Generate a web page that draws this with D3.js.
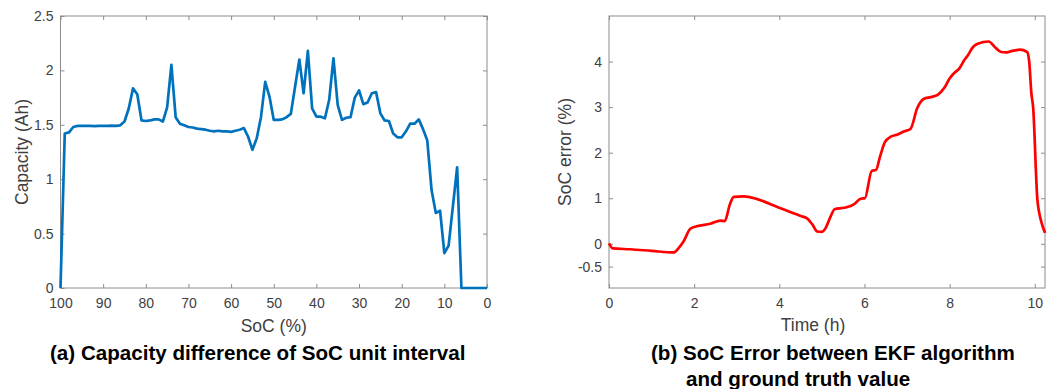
<!DOCTYPE html>
<html>
<head>
<meta charset="utf-8">
<script src="https://cdn.jsdelivr.net/npm/d3@7"></script>
<style>
  body { margin: 0; background: #fff; }
  text { font-family: "Liberation Sans", Arial, Helvetica, sans-serif; }
</style>
</head>
<body>
<svg id="fig" width="1060" height="389"></svg>
<script>
// ---- Panel (a): capacity per 1% SoC step ----
const socPercent = d3.range(100, -1, -1); // 100, 99, ..., 0
const capacityAh = [
  0, 1.42, 1.43, 1.48, 1.49, 1.49, 1.49, 1.49, 1.488, 1.49,
  1.49, 1.49, 1.492, 1.49, 1.495, 1.53, 1.65, 1.835, 1.78, 1.54,
  1.535, 1.54, 1.55, 1.55, 1.53, 1.66, 2.05, 1.57, 1.51, 1.495,
  1.48, 1.475, 1.465, 1.46, 1.455, 1.445, 1.44, 1.445, 1.44, 1.44,
  1.435, 1.445, 1.455, 1.47, 1.39, 1.27, 1.375, 1.57, 1.895, 1.76,
  1.545, 1.545, 1.55, 1.57, 1.60, 1.85, 2.10, 1.79, 2.18, 1.65,
  1.575, 1.575, 1.56, 1.73, 2.11, 1.68, 1.545, 1.565, 1.57, 1.75,
  1.815, 1.69, 1.705, 1.79, 1.80, 1.605, 1.54, 1.535, 1.42, 1.385,
  1.385, 1.44, 1.51, 1.51, 1.55, 1.46, 1.355, 0.90, 0.69, 0.71,
  0.32, 0.39, 0.75, 1.11, 0, 0, 0, 0, 0, 0,
  0
];
const socTicks = [100, 90, 80, 70, 60, 50, 40, 30, 20, 10, 0];
const capTicks = [0, 0.5, 1, 1.5, 2, 2.5];
const capTickLabels = ["0", "0.5", "1", "1.5", "2", "2.5"];

// ---- Panel (b): EKF SoC error over time ----
const errTimeH = [
  0, 0.09, 0.5, 1.0, 1.52, 1.63, 1.75, 1.91, 2.06, 2.38,
  2.62, 2.72, 2.84, 2.93, 3.17, 3.48, 3.95, 4.5, 4.65, 4.78,
  4.89, 4.99, 5.09, 5.19, 5.3, 5.52, 5.76, 5.91, 6.01, 6.17,
  6.27, 6.37, 6.48, 6.62, 6.78, 6.94, 7.08, 7.24, 7.39, 7.56,
  7.72, 7.88, 8.0, 8.11, 8.23, 8.35, 8.43, 8.55, 8.66, 8.92,
  9.06, 9.21, 9.33, 9.45, 9.65, 9.82, 9.87, 9.92, 9.96, 10.06,
  10.12, 10.16, 10.24
];
const errPercent = [
  0.01, -0.1, -0.12, -0.155, -0.19, -0.1, 0.05, 0.33, 0.385, 0.44,
  0.51, 0.5, 0.87, 1.03, 1.04, 0.98, 0.81, 0.61, 0.56, 0.42,
  0.27, 0.26, 0.35, 0.57, 0.76, 0.79, 0.87, 0.99, 1.0, 1.6,
  1.62, 1.93, 2.23, 2.35, 2.4, 2.47, 2.52, 2.98, 3.18, 3.22,
  3.27, 3.43, 3.63, 3.75, 3.85, 4.04, 4.14, 4.32, 4.39, 4.44,
  4.32, 4.21, 4.2, 4.23, 4.26, 4.21, 3.99, 3.3, 3.01, 0.98,
  0.61, 0.46, 0.24
];
const timeTicks = [0, 2, 4, 6, 8, 10];
const errTicks = [-0.5, 0, 1, 2, 3, 4];
const errTickLabels = ["-0.5", "0", "1", "2", "3", "4"];

const svg = d3.select("#fig");

const AXIS_GREY = "#8c8c8c";
const LABEL_GREY = "#404040";
const TICK_FONT = "14px";
const LABEL_FONT = "17.5px";
const TITLE_FONT = "20.6px";

// Draws a MATLAB-style boxed axes with inward ticks on all four sides.
function boxedAxes(g, x, y, xt, xfmt, yt, yfmt) {
  const [x0, x1] = x.range();
  const [y0, y1] = y.range(); // y0 = bottom, y1 = top
  const tick = 4;

  const bottom = g.append("g").attr("transform", `translate(0,${y0})`)
    .call(d3.axisBottom(x).tickValues(xt).tickFormat(xfmt)
      .tickSizeInner(-tick).tickSizeOuter(0).tickPadding(10));
  const top = g.append("g").attr("transform", `translate(0,${y1})`)
    .call(d3.axisTop(x).tickValues(xt).tickFormat("")
      .tickSizeInner(-tick).tickSizeOuter(0));
  const left = g.append("g").attr("transform", `translate(${x0},0)`)
    .call(d3.axisLeft(y).tickValues(yt).tickFormat(yfmt)
      .tickSizeInner(-tick).tickSizeOuter(0).tickPadding(7));
  const right = g.append("g").attr("transform", `translate(${x1},0)`)
    .call(d3.axisRight(y).tickValues(yt).tickFormat("")
      .tickSizeInner(-tick).tickSizeOuter(0));

  [bottom, top, left, right].forEach(a => {
    a.select(".domain").remove();
    a.selectAll(".tick line").attr("stroke", AXIS_GREY);
    a.selectAll(".tick text").attr("fill", LABEL_GREY)
      .style("font-size", TICK_FONT);
  });

  g.append("rect")
    .attr("x", x0).attr("y", y1)
    .attr("width", x1 - x0).attr("height", y0 - y1)
    .attr("fill", "none").attr("stroke", AXIS_GREY).attr("stroke-width", 1);
}

// ---------- Panel (a) ----------
{
  const g = svg.append("g");
  const x = d3.scaleLinear().domain([100, 0]).range([60.5, 487]);
  const y = d3.scaleLinear().domain([0, 2.5]).range([288, 16]);

  boxedAxes(g, x, y, socTicks, d => String(d), capTicks,
    d => capTickLabels[capTicks.indexOf(d)]);

  const line = d3.line()
    .x((d, i) => x(socPercent[i]))
    .y(d => y(d));

  g.append("path")
    .datum(capacityAh)
    .attr("d", line)
    .attr("fill", "none")
    .attr("stroke", "#0072BD")
    .attr("stroke-width", 2.7)
    .attr("stroke-linejoin", "round");

  g.append("text")
    .attr("x", (x.range()[0] + x.range()[1]) / 2).attr("y", 332)
    .attr("text-anchor", "middle").attr("fill", LABEL_GREY)
    .style("font-size", LABEL_FONT)
    .text("SoC (%)");

  g.append("text")
    .attr("transform", `translate(28,${(16 + 288) / 2}) rotate(-90)`)
    .attr("text-anchor", "middle").attr("fill", LABEL_GREY)
    .style("font-size", LABEL_FONT)
    .text("Capacity (Ah)");

  g.append("text")
    .attr("x", 50).attr("y", 360)
    .attr("fill", "#000").style("font-weight", "bold")
    .style("font-size", TITLE_FONT)
    .text("(a) Capacity difference of SoC unit interval");
}

// ---------- Panel (b) ----------
{
  const g = svg.append("g");
  const x = d3.scaleLinear().domain([0, errTimeH[errTimeH.length - 1]]).range([609, 1045]);
  const y = d3.scaleLinear().domain([-0.97, 5]).range([288, 16]);

  boxedAxes(g, x, y, timeTicks, d => String(d), errTicks,
    d => errTickLabels[errTicks.indexOf(d)]);

  const line = d3.line()
    .x((d, i) => x(errTimeH[i]))
    .y(d => y(d))
    .curve(d3.curveMonotoneX);

  g.append("path")
    .datum(errPercent)
    .attr("d", line)
    .attr("fill", "none")
    .attr("stroke", "#FF0000")
    .attr("stroke-width", 2.7)
    .attr("stroke-linejoin", "round");

  g.append("text")
    .attr("x", 813).attr("y", 331)
    .attr("text-anchor", "middle").attr("fill", LABEL_GREY)
    .style("font-size", LABEL_FONT)
    .text("Time (h)");

  g.append("text")
    .attr("transform", `translate(571,${(16 + 288) / 2}) rotate(-90)`)
    .attr("text-anchor", "middle").attr("fill", LABEL_GREY)
    .style("font-size", LABEL_FONT)
    .text("SoC error (%)");

  g.append("text")
    .attr("x", 651).attr("y", 360)
    .attr("fill", "#000").style("font-weight", "bold")
    .style("font-size", TITLE_FONT)
    .text("(b) SoC Error between EKF algorithm");
  g.append("text")
    .attr("x", 686).attr("y", 385.5)
    .attr("fill", "#000").style("font-weight", "bold")
    .style("font-size", TITLE_FONT)
    .text("and ground truth value");
}
</script>
</body>
</html>
